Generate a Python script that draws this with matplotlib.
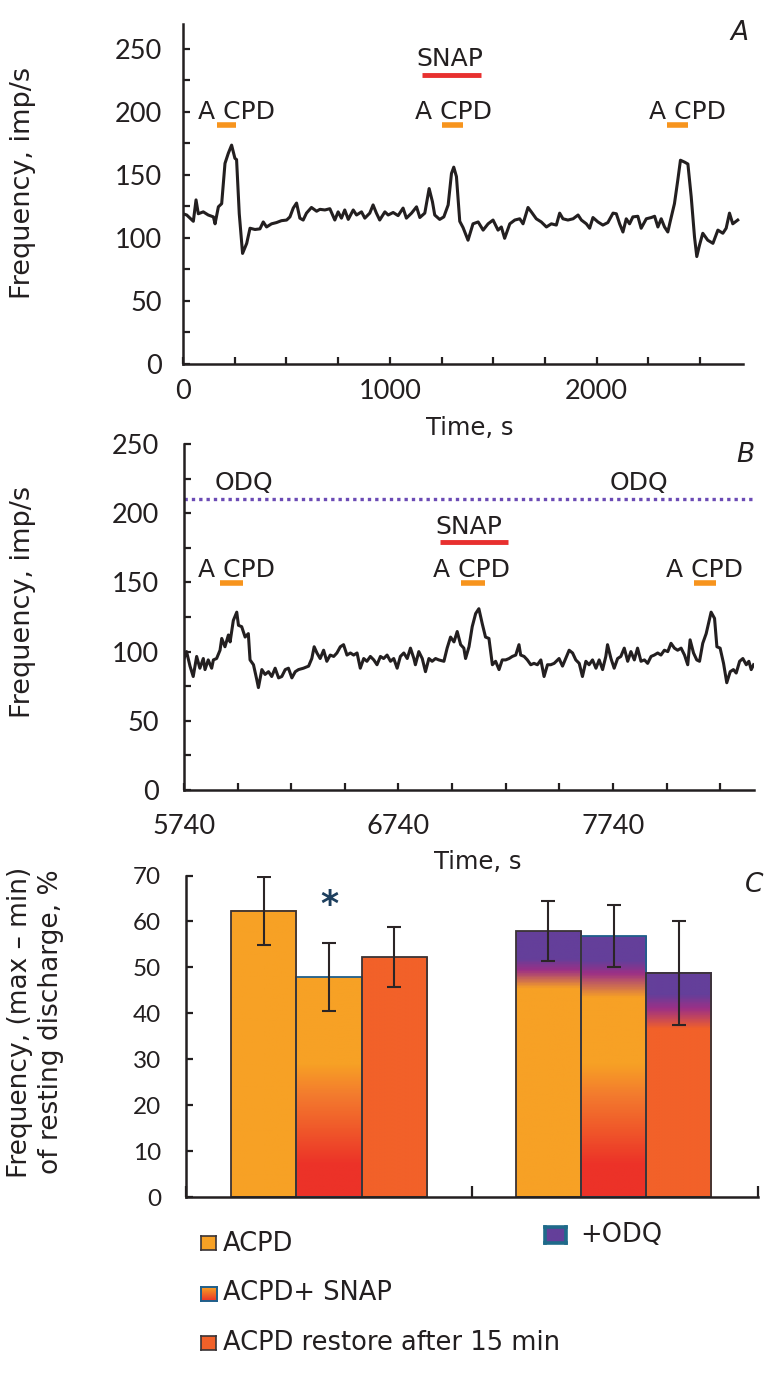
import numpy as np
import matplotlib
matplotlib.use("Agg")
import matplotlib.pyplot as plt
from matplotlib.colors import LinearSegmentedColormap, Normalize
from matplotlib.ticker import MultipleLocator, FixedLocator

plt.rcParams['font.family'] = ['DejaVu Sans']
plt.rcParams['text.color'] = '#231f20'

# ---- panel A trace (time s, frequency imp/s)
time_a = [0, 18, 50, 63, 74, 98, 122, 147, 155, 171, 187, 203, 219, 235, 251, 259, 272, 288, 308, 324,
          348, 372, 388, 404, 428, 452, 476, 501, 517, 533, 549, 565, 581, 597, 621, 646, 662, 686, 710, 734,
          750, 766, 782, 799, 823, 839, 863, 879, 903, 919, 935, 951, 976, 992, 1016, 1040, 1064, 1080, 1105, 1129,
          1145, 1169, 1190, 1206, 1217, 1241, 1261, 1282, 1298, 1309, 1322, 1338, 1354, 1378, 1402, 1427, 1451, 1475, 1499, 1523,
          1539, 1555, 1580, 1604, 1628, 1644, 1668, 1684, 1708, 1732, 1757, 1781, 1805, 1821, 1837, 1861, 1886, 1910, 1926, 1950,
          1966, 1982, 2006, 2030, 2054, 2079, 2095, 2111, 2127, 2143, 2159, 2175, 2199, 2215, 2240, 2264, 2280, 2296, 2312, 2328,
          2344, 2355, 2376, 2392, 2405, 2425, 2441, 2457, 2473, 2484, 2497, 2513, 2537, 2562, 2586, 2610, 2626, 2642, 2658, 2682]
freq_a = [119, 118, 113, 130, 119, 120.5, 118, 116.5, 111, 124.5, 127, 159, 167, 173.5, 163, 162, 119, 87.5, 95.5, 107.5,
          106.5, 107, 112.5, 108.5, 111, 112, 113.5, 114, 116.5, 123.5, 127.5, 115.5, 114, 119.5, 124, 121, 122.5, 122, 123, 114,
          120.5, 115.5, 122, 114.5, 122, 118, 120.5, 115.5, 119.5, 126, 119.5, 114, 120.5, 118, 120, 117.5, 123.5, 115.5, 119.5, 124.5,
          116, 119.5, 139, 128.5, 118, 114.5, 116.5, 126, 151, 156, 148.5, 113, 108, 98, 111, 112.5, 106, 111, 114, 106,
          108.5, 99.5, 111, 114, 115, 111, 124, 120.5, 115, 112.5, 108.5, 111, 110, 119.5, 115, 114, 115, 118, 114, 111,
          107.5, 116, 112.5, 110, 112, 119.5, 119, 111, 104.5, 115, 111, 116.5, 117, 107.5, 115, 116, 117, 108.5, 115, 108.5,
          104.5, 112.5, 127, 145.5, 161.5, 160, 158.5, 132.5, 100.5, 85, 94, 103.5, 98, 95.5, 106, 103.5, 107.5, 119.5, 111, 114]

# ---- panel B trace
time_b = [5740, 5752, 5768, 5783, 5799, 5814, 5830, 5838, 5853, 5869, 5877, 5892, 5908, 5916, 5931, 5947, 5955, 5970, 5986, 5994,
          6009, 6025, 6040, 6048, 6064, 6079, 6087, 6103, 6118, 6134, 6149, 6165, 6181, 6196, 6212, 6227, 6243, 6259, 6274, 6297,
          6321, 6336, 6347, 6360, 6375, 6391, 6406, 6422, 6438, 6453, 6469, 6484, 6500, 6516, 6531, 6547, 6562, 6578, 6593, 6609,
          6625, 6640, 6656, 6671, 6687, 6703, 6718, 6734, 6749, 6765, 6781, 6796, 6812, 6819, 6835, 6851, 6866, 6882, 6897, 6913,
          6928, 6952, 6967, 6983, 6999, 7014, 7030, 7045, 7053, 7069, 7084, 7100, 7115, 7131, 7146, 7162, 7178, 7193, 7209, 7224,
          7240, 7256, 7271, 7287, 7302, 7310, 7326, 7341, 7357, 7372, 7388, 7404, 7419, 7435, 7450, 7466, 7489, 7505, 7520, 7536,
          7552, 7567, 7583, 7598, 7614, 7629, 7645, 7661, 7676, 7692, 7707, 7715, 7731, 7746, 7762, 7777, 7793, 7809, 7824, 7840,
          7855, 7871, 7887, 7902, 7918, 7933, 7949, 7964, 7980, 7996, 8011, 8027, 8042, 8058, 8074, 8089, 8100, 8116, 8131, 8144,
          8159, 8175, 8198, 8214, 8225, 8240, 8256, 8271, 8287, 8302, 8315, 8331, 8346, 8362, 8374, 8385, 8396]
freq_b = [95, 100, 89.5, 82, 96.5, 88, 95, 87, 94, 88, 94, 95, 101, 109.5, 103.5, 112, 107, 122.5, 128.5, 119,
          118, 110.5, 113, 94, 90.5, 80, 74, 87, 83.5, 85.5, 82, 88, 81, 82, 87, 88, 81, 85.5, 87, 88,
          89.5, 95, 103.5, 99, 95, 101, 93, 97.5, 96.5, 99, 103.5, 105, 97.5, 99, 97.5, 99, 88, 95, 93, 96.5,
          94, 90.5, 96.5, 95, 97.5, 93, 95, 88, 96.5, 99, 95, 102.5, 95, 90.5, 100, 95, 85.5, 95, 93, 95,
          94, 93, 102.5, 110.5, 107, 114.5, 105, 102.5, 95, 103.5, 118, 127.5, 131, 120, 110.5, 109.5, 90.5, 93, 87, 94,
          94, 95, 96.5, 97.5, 105, 97.5, 96.5, 94, 90.5, 91.5, 90.5, 94, 82, 90.5, 90.5, 91.5, 95, 89.5, 95, 101,
          99, 94, 91.5, 82, 93, 90.5, 94, 88, 94, 87, 96.5, 105, 95, 88, 95, 96.5, 102.5, 93, 100, 94,
          102.5, 93, 94, 91.5, 96.5, 97.5, 99, 97.5, 101, 100, 106, 102.5, 101, 102.5, 97.5, 90.5, 108.5, 99, 94, 93,
          106, 113, 128.5, 124, 103.5, 102.5, 91.5, 77.5, 85.5, 87, 84.5, 93, 95, 90.5, 93, 87, 90.5]

# drug application windows (s)
acpd_a = [(164, 258), (1251, 1353), (2338, 2440)]
acpd_a_text = [258, 1307, 2437]
snap_a = (1155, 1440)
acpd_b = [(5908, 6017), (7032, 7144), (8119, 8222)]
acpd_b_text = [5983, 7079, 8165]
snap_b = (6934, 7249)

# ---- panel C bars
labels = ["ACPD", "ACPD+ SNAP", "ACPD restore after 15 min"]
ctrl_mean = [62.3, 47.9, 52.2]
ctrl_err = [7.4, 7.3, 6.5]
odq_mean = [57.9, 56.8, 48.8]
odq_err = [6.5, 6.8, 11.3]

ORANGE = '#F7A125'
DKORANGE = '#F26129'
RED = '#EC3228'
PURPLE = '#643F9A'
MAGENTA = '#9C3086'
snap_grad = [(0, RED), (7, RED), (15, '#F05A2A'), (22, '#F37A2E'), (29, ORANGE)]
ctrl_stops = [[(0, ORANGE), (70, ORANGE)],
              snap_grad + [(70, ORANGE)],
              [(0, DKORANGE), (70, DKORANGE)]]
odq_stops = [[(0, ORANGE), (45.5, ORANGE), (49.5, MAGENTA), (52, PURPLE), (70, PURPLE)],
             snap_grad + [(43.5, ORANGE), (48.8, MAGENTA), (51.5, PURPLE), (70, PURPLE)],
             [(0, DKORANGE), (36.5, DKORANGE), (41, MAGENTA), (44, PURPLE), (70, PURPLE)]]

W, H = 784, 1382
fig = plt.figure(figsize=(W / 100, H / 100), dpi=100)


def frac(x0, y0, x1, y1):
    return [x0 / W, 1 - y1 / H, (x1 - x0) / W, (y1 - y0) / H]


def style(ax, ypad, xpad, size):
    for s in ['top', 'right']:
        ax.spines[s].set_visible(False)
    for s in ['left', 'bottom']:
        ax.spines[s].set_linewidth(1.8)
        ax.spines[s].set_color('#231f20')
    ax.tick_params(which='both', direction='in', length=5, width=1.6, colors='#231f20',
                   labelsize=size, labelfontfamily='Lato')
    ax.tick_params(axis='y', which='both', pad=ypad)
    ax.tick_params(axis='x', which='both', pad=xpad)


TRACE = '#231f20'
ANN = 18

# ---------- A
axA = fig.add_axes(frac(183, 23.6, 742.5, 363.6))
axA.plot(time_a, freq_a, color=TRACE, lw=2.2)
axA.set_xlim(0, 2705)
axA.set_ylim(0, 270)
axA.xaxis.set_major_locator(MultipleLocator(1000))
axA.xaxis.set_minor_locator(MultipleLocator(250))
axA.yaxis.set_major_locator(FixedLocator([0, 50, 100, 150, 200, 250]))
axA.yaxis.set_minor_locator(FixedLocator([25, 75, 125, 175, 225]))
style(axA, 15, 11, 19.5)
for (t0, t1), tx in zip(acpd_a, acpd_a_text):
    axA.plot([t0, t1], [189.5, 189.5], color='#F7941D', lw=4, solid_capstyle='butt')
    axA.text(tx, 194, "A CPD", ha='center', va='baseline', fontsize=ANN)
axA.plot(snap_a, [229, 229], color='#E8302F', lw=3.5, solid_capstyle='butt')
axA.text(1290, 236.5, "SNAP", ha='center', va='baseline', fontsize=ANN)
axA.text(2690, 257, "A", ha='center', va='baseline', fontsize=19, style='italic')
fig.text(470 / W, 1 - 428 / H, "Time, s", ha='center', va='center', fontsize=17.5)
fig.text(23 / W, 1 - 183 / H, "Frequency, imp/s", rotation=90, ha='center', va='center', fontsize=19.5)

# ---------- B
axB = fig.add_axes(frac(184, 444, 754, 790))
axB.plot(time_b, freq_b, color=TRACE, lw=2.2)
axB.set_xlim(5740, 8398)
axB.set_ylim(0, 250)
axB.xaxis.set_major_locator(FixedLocator([5740, 6740, 7740]))
axB.xaxis.set_minor_locator(FixedLocator(np.arange(5740, 8398, 250)))
axB.yaxis.set_major_locator(FixedLocator([0, 50, 100, 150, 200, 250]))
axB.yaxis.set_minor_locator(FixedLocator([25, 75, 125, 175, 225]))
style(axB, 18, 17, 19.5)
axB.axhline(210, color='#6B4BB5', lw=2.4, dashes=(1, 1.2))
axB.text(6020, 216.8, "ODQ", ha='center', va='baseline', fontsize=ANN)
axB.text(7862, 216.8, "ODQ", ha='center', va='baseline', fontsize=ANN)
axB.plot(snap_b, [179.4, 179.4], color='#E8302F', lw=3.5, solid_capstyle='butt')
axB.text(7069, 185, "SNAP", ha='center', va='baseline', fontsize=ANN)
for (t0, t1), tx in zip(acpd_b, acpd_b_text):
    axB.plot([t0, t1], [149.8, 149.8], color='#F7941D', lw=4, solid_capstyle='butt')
    axB.text(tx, 153.7, "A CPD", ha='center', va='baseline', fontsize=ANN)
axB.text(8360, 237, "B", ha='center', va='baseline', fontsize=19, style='italic')
fig.text(478 / W, 1 - 862 / H, "Time, s", ha='center', va='center', fontsize=17.5)
fig.text(23 / W, 1 - 602 / H, "Frequency, imp/s", rotation=90, ha='center', va='center', fontsize=19.5)

# ---------- C
axC = fig.add_axes(frac(186, 875.5, 758, 1197))
style(axC, 18, 8, 17.5)
axC.tick_params(axis='x', which='both', length=8, labelbottom=False)
axC.set_xticks([0, 1, 2])
axC.yaxis.set_major_locator(MultipleLocator(10))
bw = 0.228
centers = [0.5, 1.495]
norm = Normalize(0, 70)


def grad_bar(ax, x, h, stops, edge):
    cmap = LinearSegmentedColormap.from_list('g', [(v / 70, c) for v, c in stops])
    x0 = x - bw / 2
    ax.imshow(np.linspace(0, h, 300).reshape(-1, 1), extent=[x0, x0 + bw, 0, h], origin='lower',
              aspect='auto', cmap=cmap, norm=norm, interpolation='bilinear', zorder=1)
    ax.bar(x, h, bw, fill=False, edgecolor=edge, lw=1.3, zorder=2)


for gi, (means, errs, stops) in enumerate([(ctrl_mean, ctrl_err, ctrl_stops), (odq_mean, odq_err, odq_stops)]):
    for i in [1, 0, 2]:
        x = centers[gi] + (i - 1) * bw
        grad_bar(axC, x, means[i], stops[i], '#1F5F8B' if i == 1 else '#3a3335')
    xs = [centers[gi] + (i - 1) * bw for i in range(3)]
    axC.errorbar(xs, means, yerr=errs, fmt='none', ecolor='#2b2526', elinewidth=1.5, capsize=5, capthick=1.5, zorder=3)

axC.text(centers[0], 63.5, "*", ha='center', va='center', fontsize=25, color='#1d3f5e', fontweight='bold')
axC.set_xlim(0, 2)
axC.set_ylim(0, 70)
axC.text(1.985, 66.5, "C", ha='center', va='baseline', fontsize=19, style='italic')
fig.text(36 / W, 1 - 1022 / H, "Frequency, (max \u2013 min)\nof resting discharge, %", rotation=90,
         ha='center', va='center', fontsize=19, multialignment='center', linespacing=1.25)


# ---------- legend
def legend_patch(x0, y0, x1, y1, stops, edge, elw):
    a = fig.add_axes(frac(x0, y0, x1, y1))
    cmap = LinearSegmentedColormap.from_list('l', stops)
    a.imshow(np.linspace(0, 1, 50).reshape(-1, 1), origin='lower', aspect='auto', cmap=cmap,
             extent=[0, 1, 0, 1], interpolation='bilinear')
    a.set_xticks([])
    a.set_yticks([])
    for s in a.spines.values():
        s.set_color(edge)
        s.set_linewidth(elw)


legend_patch(201, 1236, 216, 1250, [ORANGE, ORANGE], '#3a3335', 1.2)
legend_patch(201, 1287, 217, 1301, [RED, ORANGE], '#1F5F8B', 1.4)
legend_patch(201, 1336, 216, 1350, [DKORANGE, DKORANGE], '#3a3335', 1.2)
legend_patch(545, 1227, 566, 1243, [PURPLE, PURPLE], '#1F6A8A', 2.6)
fig.text(223 / W, 1 - 1244 / H, labels[0], ha='left', va='center', fontsize=18.5)
fig.text(223 / W, 1 - 1293 / H, labels[1], ha='left', va='center', fontsize=18.5)
fig.text(223 / W, 1 - 1343 / H, labels[2], ha='left', va='center', fontsize=18.5)
fig.text(580 / W, 1 - 1235 / H, "+ODQ", ha='left', va='center', fontsize=18.5)

fig.savefig("out.png", dpi=100)
